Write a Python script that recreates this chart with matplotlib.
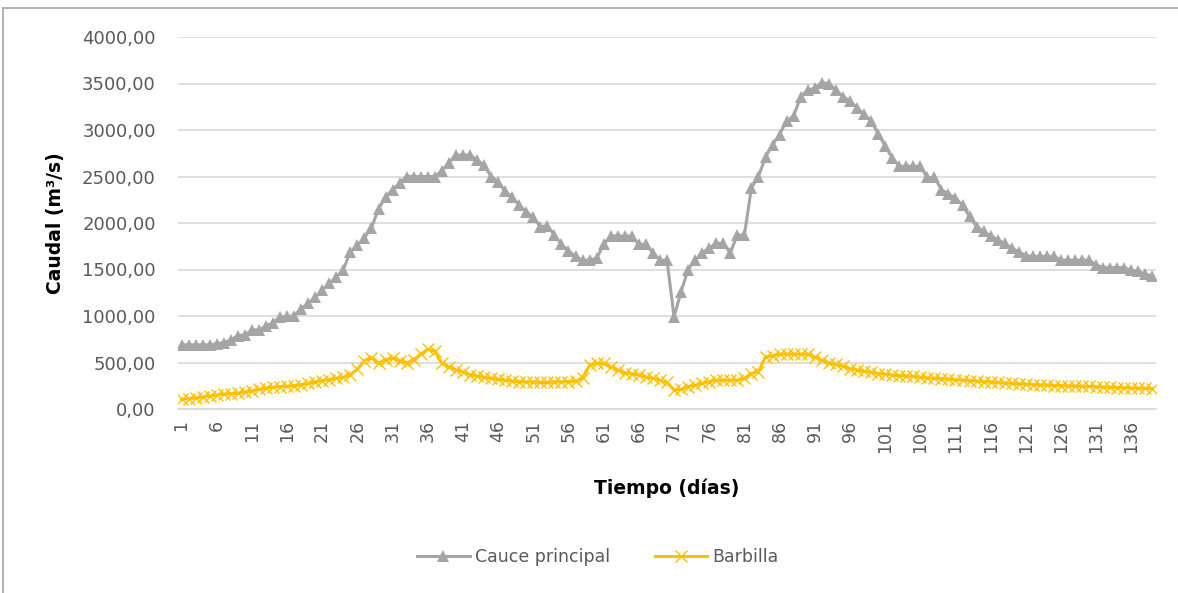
import numpy as np
import matplotlib
matplotlib.use('Agg')
import matplotlib.pyplot as plt
from matplotlib.lines import Line2D
from matplotlib.ticker import FuncFormatter

#%% data

dias = np.arange(1, 140)

cauce_principal = [
    690, 690, 690, 690, 690, 700, 715, 740, 790, 795,
    850, 850, 890, 930, 990, 995, 1000, 1080, 1135, 1200,
    1280, 1350, 1420, 1500, 1690, 1760, 1840, 1950, 2150, 2280,
    2360, 2430, 2500, 2500, 2500, 2500, 2500, 2560, 2650, 2730,
    2730, 2730, 2680, 2620, 2500, 2440, 2340, 2280, 2190, 2120,
    2060, 1960, 1970, 1870, 1770, 1700, 1640, 1600, 1600, 1620,
    1770, 1860, 1860, 1860, 1860, 1770, 1770, 1680, 1600, 1600,
    990, 1260, 1500, 1600, 1680, 1730, 1780, 1780, 1680, 1870,
    1870, 2380, 2500, 2710, 2840, 2950, 3100, 3150, 3360, 3430,
    3450, 3510, 3500, 3430, 3360, 3310, 3240, 3170, 3100, 2960,
    2830, 2700, 2610, 2610, 2610, 2610, 2490, 2490, 2360, 2310,
    2270, 2190, 2070, 1960, 1910, 1860, 1820, 1780, 1730, 1690,
    1650, 1640, 1640, 1640, 1640, 1600, 1600, 1600, 1600, 1600,
    1550, 1520, 1520, 1520, 1520, 1490, 1480, 1450, 1430,
]

barbilla = [
    105, 110, 120, 130, 140, 150, 160, 165, 170, 180,
    195, 210, 225, 235, 240, 245, 250, 260, 275, 290,
    305, 315, 330, 340, 370, 430, 520, 550, 495, 530,
    545, 520, 495, 530, 590, 640, 625, 490, 455, 420,
    400, 370, 355, 340, 330, 320, 310, 300, 295, 290,
    290, 285, 285, 290, 290, 295, 300, 330, 470, 490,
    490, 455, 420, 390, 380, 365, 345, 330, 310, 285,
    205, 210, 240, 255, 275, 295, 310, 310, 310, 310,
    330, 380, 400, 560, 570, 590, 590, 590, 590, 590,
    560, 525, 495, 480, 460, 435, 420, 405, 395, 380,
    375, 365, 360, 355, 350, 340, 335, 330, 325, 320,
    315, 310, 305, 300, 295, 290, 285, 280, 275, 270,
    265, 262, 258, 255, 252, 250, 248, 246, 244, 242,
    238, 235, 232, 230, 228, 226, 224, 222, 220,
]

series_names = ['Cauce principal', 'Barbilla']

#%% plot

gris = '#A5A5A5'
amarillo = '#FFC000'
texto = '#595959'

plt.rcParams['font.family'] = ['DejaVu Sans']

fig = plt.figure(figsize=(11.78, 5.93), dpi=100)
ax = fig.add_axes([178/1178, 1-409/593, (1156-178)/1178, (409-37)/593])

ax.plot(dias, cauce_principal, color=gris, linewidth=2.2, marker='^',
        markersize=9, markeredgewidth=0, zorder=3)
ax.plot(dias, barbilla, color=amarillo, linewidth=2.2, marker='x',
        markersize=8, markeredgewidth=1.0, zorder=4)

ax.set_xlim(0.5, 139.5)
ax.set_ylim(0, 4000)
ax.set_yticks(np.arange(0, 4001, 500))
ax.yaxis.set_major_formatter(FuncFormatter(lambda v, p: ('%.2f' % v).replace('.', ',')))
ax.set_xticks(np.arange(1, 140, 5))
ax.set_xticklabels([str(t) for t in range(1, 140, 5)], rotation=90)

ax.grid(True, axis='y', color='#D9D9D9', linewidth=1.2)
ax.set_axisbelow(True)
for s in ['top', 'right', 'left']:
    ax.spines[s].set_visible(False)
ax.spines['bottom'].set_color('#D9D9D9')
ax.spines['bottom'].set_linewidth(1.2)
ax.tick_params(axis='both', length=0, labelsize=12.5, labelcolor=texto)
ax.tick_params(axis='y', labelsize=13, pad=16)
ax.tick_params(axis='x', pad=8)

ax.set_ylabel('Caudal (m³/s)', fontsize=13.5, fontweight='bold', color='black', labelpad=12)
ax.set_xlabel('Tiempo (días)', fontsize=13.5, fontweight='bold', color='black', labelpad=18)

handles = [Line2D([], [], color=gris, linewidth=2.2, marker='^', markersize=9, markeredgewidth=0),
           Line2D([], [], color=amarillo, linewidth=2.2, marker='x', markersize=8, markeredgewidth=1.0)]
leg = fig.legend(handles, series_names, loc='center', bbox_to_anchor=(598/1178, 1-557/593),
                 ncol=2, frameon=False, fontsize=12.5, handlelength=3.0, handletextpad=0.3,
                 columnspacing=2.6)
for t in leg.get_texts():
    t.set_color(texto)

# chart area border (top and left visible in reference)
fig.add_artist(Line2D([3/1178, 1.0], [1-8/593, 1-8/593], color='#A6A6A6', linewidth=1.2))
fig.add_artist(Line2D([3/1178, 3/1178], [0, 1-8/593], color='#A6A6A6', linewidth=1.2))

fig.savefig('out.png', dpi=100)
